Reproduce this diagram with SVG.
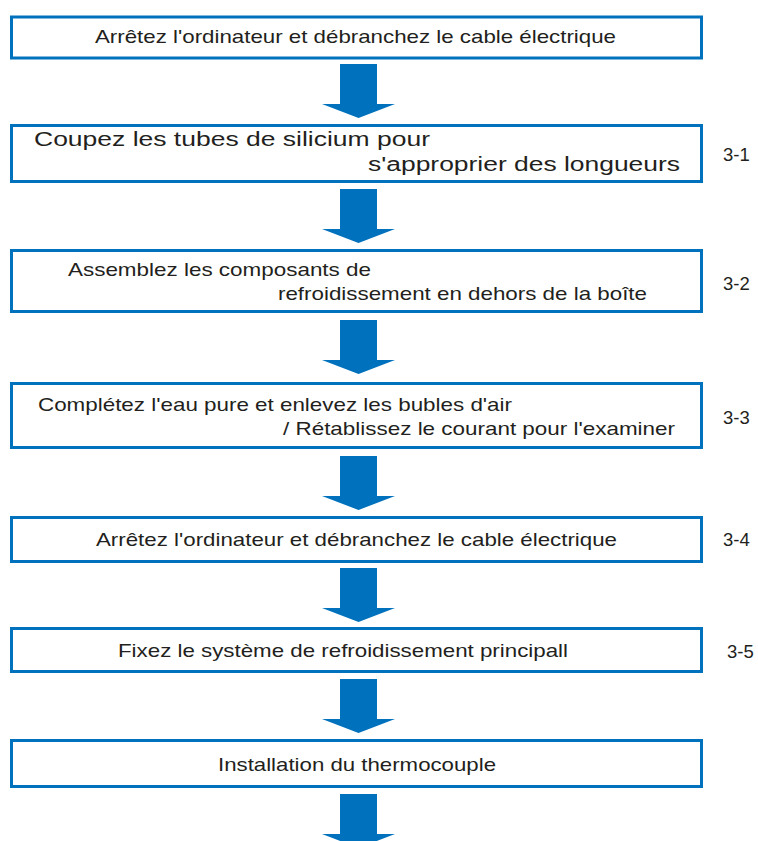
<svg xmlns="http://www.w3.org/2000/svg" width="758" height="841" viewBox="0 0 758 841">
<defs>
<style>
.box{fill:#fff;stroke:#0071BC;stroke-width:3}
.t{font-family:"Liberation Sans",Arial,sans-serif;font-size:18.5px;fill:#231F20}
.t2{font-family:"Liberation Sans",Arial,sans-serif;font-size:20px;fill:#231F20}
.n{font-family:"Liberation Sans",Arial,sans-serif;font-size:18.5px;fill:#231F20}
.arr{fill:#0071BC}
</style>
<path id="arrow" d="M340 0 H377 V40 H395 L358.5 54 L322 40 H340 Z"/>
</defs>
<rect width="758" height="841" fill="#fff"/>
<g id="connectors">
<use href="#arrow" class="arr" y="64"/>
<use href="#arrow" class="arr" y="189"/>
<use href="#arrow" class="arr" y="320"/>
<use href="#arrow" class="arr" y="456"/>
<use href="#arrow" class="arr" y="568"/>
<use href="#arrow" class="arr" y="679"/>
<use href="#arrow" class="arr" y="794"/>
</g>
<g id="step0">
<rect class="box" x="11.5" y="17" width="690" height="41"/>
<text class="t" x="95" y="43" textLength="521" lengthAdjust="spacingAndGlyphs">Arrêtez l'ordinateur et débranchez le cable électrique</text>
</g>
<g id="step1">
<rect class="box" x="11.5" y="125.5" width="690" height="56"/>
<text class="t2" x="34" y="146" textLength="396" lengthAdjust="spacingAndGlyphs">Coupez les tubes de silicium pour</text>
<text class="t2" x="368" y="171" textLength="312" lengthAdjust="spacingAndGlyphs">s'approprier des longueurs</text>
<text class="n" x="723" y="161">3-1</text>
</g>
<g id="step2">
<rect class="box" x="11.5" y="250.5" width="690" height="61"/>
<text class="t" x="68" y="276" textLength="303" lengthAdjust="spacingAndGlyphs">Assemblez les composants de</text>
<text class="t" x="278" y="300" textLength="369" lengthAdjust="spacingAndGlyphs">refroidissement en dehors de la boîte</text>
<text class="n" x="723" y="290">3-2</text>
</g>
<g id="step3">
<rect class="box" x="11.5" y="383.5" width="690" height="64"/>
<text class="t" x="38" y="411" textLength="474" lengthAdjust="spacingAndGlyphs">Complétez l'eau pure et enlevez les bubles d'air</text>
<text class="t" x="283" y="435" textLength="392" lengthAdjust="spacingAndGlyphs">/ Rétablissez le courant pour l'examiner</text>
<text class="n" x="723" y="424">3-3</text>
</g>
<g id="step4">
<rect class="box" x="11.5" y="517.5" width="690" height="44"/>
<text class="t" x="96" y="546" textLength="521" lengthAdjust="spacingAndGlyphs">Arrêtez l'ordinateur et débranchez le cable électrique</text>
<text class="n" x="723" y="546">3-4</text>
</g>
<g id="step5">
<rect class="box" x="11.5" y="628.5" width="690" height="43"/>
<text class="t" x="118" y="657" textLength="450" lengthAdjust="spacingAndGlyphs">Fixez le système de refroidissement principall</text>
<text class="n" x="727" y="658">3-5</text>
</g>
<g id="step6">
<rect class="box" x="11.5" y="740.5" width="690" height="46"/>
<text class="t" x="218" y="771" textLength="278" lengthAdjust="spacingAndGlyphs">Installation du thermocouple</text>
</g>
</svg>
